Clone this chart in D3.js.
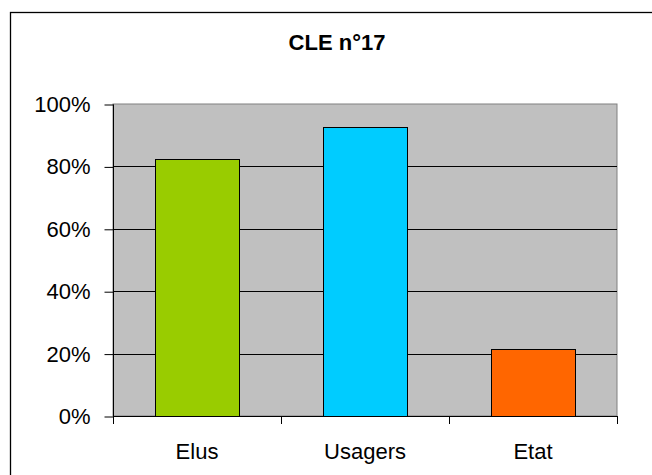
<!DOCTYPE html>
<html>
<head>
<meta charset="utf-8">
<script src="https://cdn.jsdelivr.net/npm/d3@7"></script>
<style>
  body { margin: 0; background: #fff; }
  text { font-family: "Liberation Sans", Arial, sans-serif; fill: #000; }
</style>
</head>
<body>
<div id="chart"></div>
<script>
// chart data
var categories = ["Elus", "Usagers", "Etat"]
var values = [0.824, 0.926, 0.216]
var colors = ["#99CC00", "#00CCFF", "#FF6600"]
var yTicks = [0, 0.2, 0.4, 0.6, 0.8, 1.0]
var title = "CLE n°17"

var width = 652, height = 475
var plot = { left: 113, right: 617, top: 104, bottom: 416 }

var svg = d3.select("#chart")
  .append("svg")
  .attr("width", width)
  .attr("height", height)

// outer frame (runs off right and bottom edges)
svg.append("rect")
  .attr("x", 10.5).attr("y", 12.5)
  .attr("width", 660).attr("height", 480)
  .attr("fill", "#fff")
  .attr("stroke", "#000")
  .attr("stroke-width", 1.3)

svg.append("text")
  .attr("x", 337).attr("y", 50)
  .attr("text-anchor", "middle")
  .attr("font-size", 22)
  .attr("font-weight", "bold")
  .text(title)

var x = d3.scaleBand()
  .domain(categories)
  .range([plot.left, plot.right])
  .paddingInner(0.5)
  .paddingOuter(0.25)

var y = d3.scaleLinear()
  .domain([0, 1])
  .range([plot.bottom, plot.top])

// plot background
svg.append("rect")
  .attr("x", plot.left).attr("y", plot.top)
  .attr("width", plot.right - plot.left)
  .attr("height", plot.bottom - plot.top)
  .attr("fill", "#C0C0C0")
  .attr("stroke", "#808080")
  .attr("stroke-width", 1)

// gridlines
svg.append("g")
  .selectAll("line")
  .data(yTicks.filter(function(d) { return d > 0 && d < 1 }))
  .enter()
  .append("line")
  .attr("x1", plot.left).attr("x2", plot.right)
  .attr("y1", function(d) { return Math.round(y(d)) + 0.5 })
  .attr("y2", function(d) { return Math.round(y(d)) + 0.5 })
  .attr("stroke", "#000")
  .attr("stroke-width", 1)

// bars
svg.append("g")
  .selectAll("rect")
  .data(values)
  .enter()
  .append("rect")
  .attr("x", function(d, i) { return Math.round(x(categories[i])) + 0.5 })
  .attr("y", function(d) { return Math.round(y(d)) + 0.5 })
  .attr("width", x.bandwidth())
  .attr("height", function(d) { return Math.round(y(0)) - Math.round(y(d)) })
  .attr("fill", function(d, i) { return colors[i] })
  .attr("stroke", "#000")
  .attr("stroke-width", 1)

// y axis
var yAxis = d3.axisLeft(y)
  .tickValues(yTicks)
  .tickSize(9)
  .tickPadding(14)
  .tickFormat(d3.format(".0%"))

var gy = svg.append("g")
  .attr("transform", "translate(" + (plot.left + 0.5) + ",0.5)")
  .call(yAxis)
gy.select(".domain").attr("stroke", "#000").attr("d", "M0," + plot.top + "V" + plot.bottom)
gy.selectAll(".tick line").attr("stroke", "#000")
gy.selectAll(".tick text").attr("font-size", 22).attr("font-family", "Liberation Sans, Arial, sans-serif")

// x axis: ticks at category boundaries
var step = x.step()
var boundaries = d3.range(categories.length + 1).map(function(i) { return plot.left + i * step })

var gx = svg.append("g")
gx.append("line")
  .attr("x1", plot.left).attr("x2", plot.right)
  .attr("y1", plot.bottom + 0.5).attr("y2", plot.bottom + 0.5)
  .attr("stroke", "#000")
gx.selectAll("line.tick")
  .data(boundaries)
  .enter()
  .append("line")
  .attr("class", "tick")
  .attr("x1", function(d) { return Math.round(d) + 0.5 })
  .attr("x2", function(d) { return Math.round(d) + 0.5 })
  .attr("y1", plot.bottom).attr("y2", plot.bottom + 8)
  .attr("stroke", "#000")

gx.selectAll("text")
  .data(categories)
  .enter()
  .append("text")
  .attr("x", function(d) { return x(d) + x.bandwidth() / 2 })
  .attr("y", 459)
  .attr("text-anchor", "middle")
  .attr("font-size", 22)
  .text(function(d) { return d })
</script>
</body>
</html>
